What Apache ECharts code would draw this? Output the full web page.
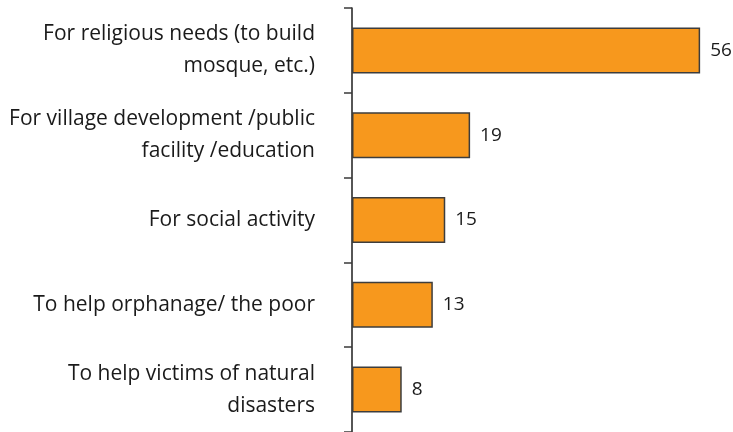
<!DOCTYPE html>
<html>
<head>
<meta charset="utf-8">
<style>
  html, body { margin: 0; padding: 0; background: #ffffff; }
  #chart { width: 733px; height: 432px; }
</style>
<script src="https://cdn.jsdelivr.net/npm/echarts@6/dist/echarts.min.js"></script>
</head>
<body>
<div id="chart"></div>
<script>
// Purposes of giving, listed top to bottom
const categories = [
  'For religious needs (to build\nmosque, etc.)',
  'For village development /public\nfacility /education',
  'For social activity',
  'To help orphanage/ the poor',
  'To help victims of natural\ndisasters'
];
// Share of respondents for each purpose
const values = [56, 19, 15, 13, 8];
const axisMax = 60;

const chart = echarts.init(document.getElementById('chart'), null, { renderer: 'canvas' });

chart.setOption({
  animation: false,
  backgroundColor: '#ffffff',
  grid: { left: 352, right: 8, top: 8, bottom: -2, containLabel: false },
  xAxis: {
    type: 'value',
    min: 0,
    max: axisMax,
    show: false
  },
  yAxis: {
    type: 'category',
    data: categories,
    inverse: true,
    axisLine: { show: true, lineStyle: { color: '#1e1e1e', width: 1.5 } },
    axisTick: { show: true, length: 8, lineStyle: { color: '#3a3a3a', width: 1.5 } },
    axisLabel: {
      margin: 37,
      color: '#1a1a1a',
      fontFamily: 'Open Sans',
      fontSize: 21,
      lineHeight: 32,
      align: 'right'
    },
    splitLine: { show: false }
  },
  series: [{
    type: 'bar',
    data: values,
    barWidth: 46,
    itemStyle: {
      color: '#F7981D',
      borderColor: '#3d3d3d',
      borderWidth: 1.5
    },
    label: {
      show: true,
      position: 'right',
      distance: 10,
      color: '#1a1a1a',
      fontFamily: 'Open Sans',
      fontSize: 19
    }
  }]
});
</script>
</body>
</html>
